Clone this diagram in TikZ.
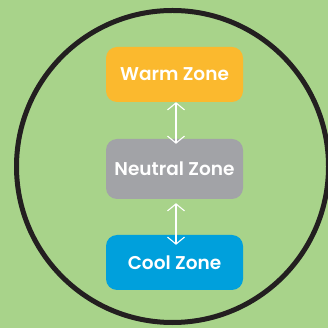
\documentclass[tikz,border=0pt]{standalone}
\usepackage{fontspec}
\newfontfamily\zonefont{Poppins}[UprightFont={* SemiBold}]
\usetikzlibrary{arrows.meta,calc}
\definecolor{bggreen}{HTML}{A8D38A}
\definecolor{ringc}{HTML}{231F20}
\definecolor{warmc}{HTML}{FBB92E}
\definecolor{neutc}{HTML}{A2A3A7}
\definecolor{coolc}{HTML}{00A0DC}
\tikzset{
  zone/.style={rounded corners=11pt, minimum width=137pt, inner sep=0pt, text=white, font=\zonefont\fontsize{18.5}{21}\selectfont},
  link/.style={draw=white, line width=1.1pt, {Straight Barb[length=7pt,width=17pt]}-{Straight Barb[length=7pt,width=17pt]}}
}
\begin{document}
\begin{tikzpicture}[x=1pt,y=1pt]
\useasboundingbox (0,0) rectangle (328,328);
\fill[bggreen] (0,0) rectangle (328,328);
\clip (0,0) rectangle (328,328);
\draw[line width=5pt, ringc] (172.5,161.5) circle[radius=156];
\node[zone, fill=warmc, minimum height=55pt] (warm) at (174.5,253.5) {Warm Zone};
\node[zone, fill=neutc, minimum height=60pt] (neutral) at (174.5,159) {Neutral Zone};
\node[zone, fill=coolc, minimum height=55pt] (cool) at (174.5,65.5) {Cool Zone};
\draw[link] ($(warm.south)+(1.5,0)$) -- ($(neutral.north)+(1.5,-5)$);
\draw[link] ($(neutral.south)+(1.5,-4)$) -- ($(cool.north)+(1.5,-10)$);
\end{tikzpicture}
\end{document}
